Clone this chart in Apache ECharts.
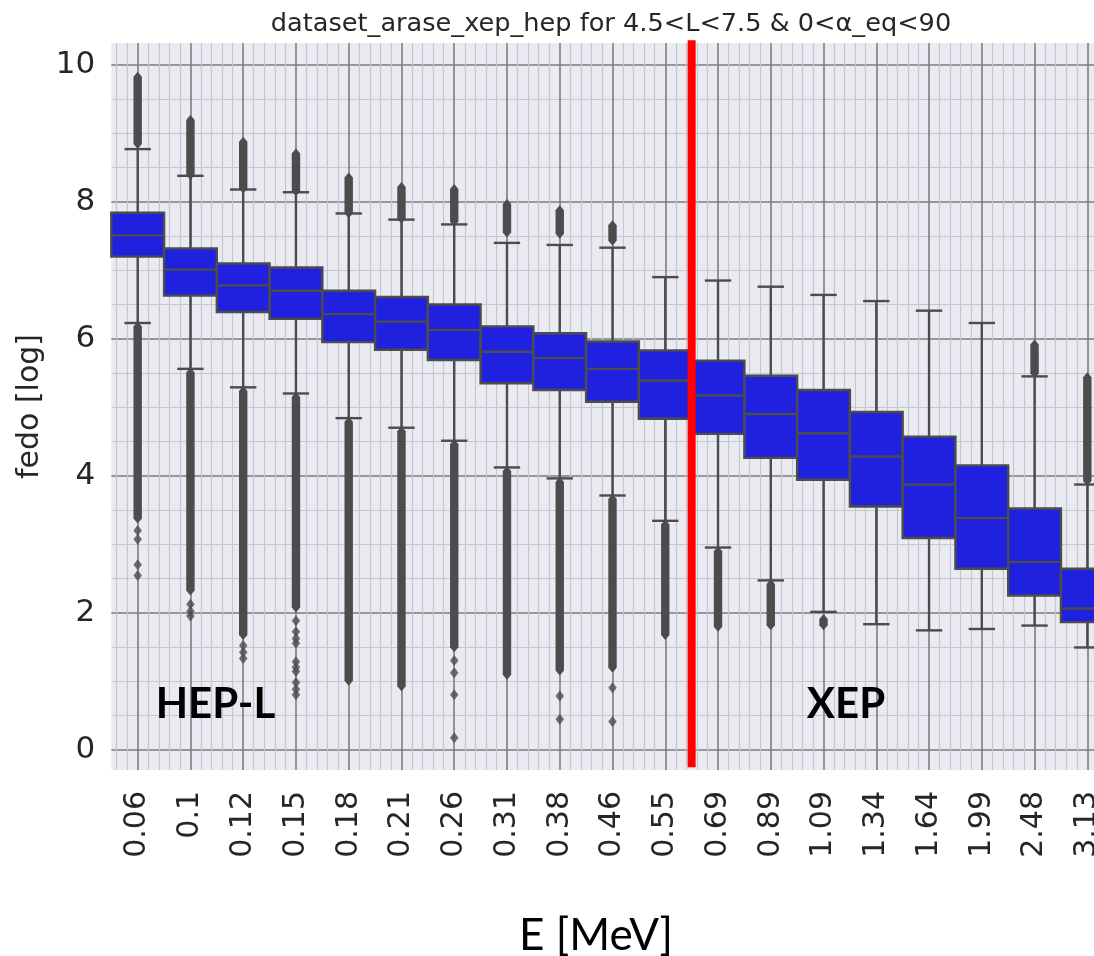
<!DOCTYPE html>
<html>
<head>
<meta charset="utf-8">
<title>fedo vs energy</title>
<script src="https://cdn.jsdelivr.net/npm/echarts@6.0.0/dist/echarts.min.js"></script>
<style>
  html, body { margin: 0; padding: 0; background: #fff; overflow: hidden; }
  /* the axes run a little past the right edge of the window, as in the source figure */
  #chart { width: 1114px; height: 956px; }
</style>
</head>
<body>
<div id="chart"></div>
<script>
// energy channels [MeV]; the first 11 are HEP-L, the rest XEP
const energies = ['0.06', '0.1', '0.12', '0.15', '0.18', '0.21', '0.26', '0.31', '0.38', '0.46',
  '0.55', '0.69', '0.89', '1.09', '1.34', '1.64', '1.99', '2.48', '3.13']
const hepCount = 11

// box statistics, log10 fedo
const whiskerLow = [6.23, 5.56, 5.29, 5.20, 4.84, 4.70, 4.51, 4.12, 3.96, 3.71, 3.34, 2.95, 2.47, 2.01, 1.83, 1.74, 1.76, 1.81, 1.49]
const q1 = [7.20, 6.63, 6.39, 6.29, 5.95, 5.84, 5.69, 5.35, 5.25, 5.08, 4.83, 4.61, 4.26, 3.94, 3.55, 3.09, 2.64, 2.25, 1.86]
const median = [7.51, 7.01, 6.78, 6.70, 6.36, 6.25, 6.13, 5.81, 5.72, 5.56, 5.39, 5.17, 4.90, 4.62, 4.28, 3.87, 3.38, 2.74, 2.06]
const q3 = [7.84, 7.32, 7.10, 7.04, 6.70, 6.61, 6.50, 6.18, 6.08, 5.96, 5.83, 5.68, 5.46, 5.25, 4.93, 4.57, 4.15, 3.52, 2.64]
const whiskerHigh = [8.77, 8.38, 8.18, 8.14, 7.83, 7.74, 7.67, 7.40, 7.37, 7.33, 6.90, 6.85, 6.76, 6.64, 6.55, 6.41, 6.23, 5.45, 3.87]

// runs of outliers so dense they merge into a bar: [channel, from, to]
const flierRuns = [
  [0, 8.77, 9.90], [1, 8.32, 9.27], [2, 8.12, 8.95], [3, 8.08, 8.78], [4, 7.76, 8.43],
  [5, 7.68, 8.29], [6, 7.64, 8.26], [7, 7.48, 8.04], [8, 7.46, 7.95], [9, 7.36, 7.73],
  [17, 5.42, 5.99], [18, 3.85, 5.51],
  [0, 3.30, 6.25], [1, 2.25, 5.58], [2, 1.60, 5.31], [3, 2.00, 5.22], [4, 0.93, 4.86],
  [5, 0.85, 4.72], [6, 1.42, 4.53], [7, 1.02, 4.14], [8, 1.08, 3.98], [9, 1.12, 3.73],
  [10, 1.60, 3.36], [11, 1.72, 2.97], [12, 1.74, 2.49], [13, 1.74, 1.98]
]
// single outliers standing apart: [channel, value]
const flierPoints = [
  [0, 3.20], [0, 3.07], [0, 2.70], [0, 2.54],
  [1, 2.12], [1, 2.02], [1, 1.95],
  [2, 1.52], [2, 1.42], [2, 1.33],
  [3, 1.88], [3, 1.72], [3, 1.62], [3, 1.55], [3, 1.28], [3, 1.20], [3, 1.14], [3, 0.98], [3, 0.88], [3, 0.80],
  [6, 1.30], [6, 1.12], [6, 0.80], [6, 0.17],
  [8, 0.78], [8, 0.44],
  [9, 0.90], [9, 0.41]
]

const BOX = '#2020df'
const EDGE = '#4c4c4c'
const TEXT = '#262626'
const FONT = 'DejaVu Sans'

const boxRows = energies.map((e, i) => [i, whiskerLow[i], q1[i], median[i], q3[i], whiskerHigh[i]])

function renderBox (params, api) {
  const i = api.value(0)
  const band = api.size([1, 0])[0]
  const xc = api.coord([i, 0])[0]
  const y = k => api.coord([i, api.value(k)])[1]
  const yLow = y(1), yQ1 = y(2), yMed = y(3), yQ3 = y(4), yHigh = y(5)
  const half = band / 2
  const cap = band / 4
  const line = { stroke: EDGE, lineWidth: 2.4 }
  return {
    type: 'group',
    children: [
      { type: 'line', shape: { x1: xc, y1: yQ3, x2: xc, y2: yHigh }, style: line },
      { type: 'line', shape: { x1: xc, y1: yQ1, x2: xc, y2: yLow }, style: line },
      { type: 'line', shape: { x1: xc - cap, y1: yHigh, x2: xc + cap, y2: yHigh }, style: line },
      { type: 'line', shape: { x1: xc - cap, y1: yLow, x2: xc + cap, y2: yLow }, style: line },
      { type: 'rect', shape: { x: xc - half, y: yQ3, width: band, height: yQ1 - yQ3 }, style: { fill: BOX, stroke: EDGE, lineWidth: 2.4 } },
      { type: 'line', shape: { x1: xc - half, y1: yMed, x2: xc + half, y2: yMed }, style: line }
    ]
  }
}

function renderRun (params, api) {
  const top = api.coord([api.value(0), api.value(2)])
  const bot = api.coord([api.value(0), api.value(1)])
  const w = 4.2
  const tip = 5
  return {
    type: 'polygon',
    shape: {
      points: [
        [top[0], top[1]], [top[0] + w, top[1] + tip], [bot[0] + w, bot[1] - tip],
        [bot[0], bot[1]], [bot[0] - w, bot[1] - tip], [top[0] - w, top[1] + tip]
      ]
    },
    style: { fill: EDGE }
  }
}

const chart = echarts.init(document.getElementById('chart'))
chart.setOption({
  animation: false,
  backgroundColor: '#fff',
  title: {
    text: 'dataset_arase_xep_hep for 4.5<L<7.5 & 0<α_eq<90',
    left: 611,
    top: 11,
    padding: 0,
    textAlign: 'center',
    textStyle: { fontFamily: FONT, fontSize: 25.6, fontWeight: 'normal', color: TEXT }
  },
  grid: {
    left: 111.3,
    top: 43,
    width: 1002.4,
    height: 727,
    outerBoundsMode: 'none',
    show: true,
    backgroundColor: '#eaeaf2',
    borderWidth: 0
  },
  xAxis: [
    {
      type: 'category',
      data: energies,
      axisLine: { show: false },
      axisTick: { show: false },
      splitLine: { show: false },
      axisLabel: {
        rotate: 90,
        margin: 21,
        interval: 0,
        fontFamily: FONT,
        fontSize: 30,
        color: TEXT
      }
    },
    {
      // only carries the vertical grid (major at channel centres, minor in fifths)
      type: 'value',
      position: 'bottom',
      min: -0.5,
      max: 18.5,
      minInterval: 1,
      maxInterval: 1,
      axisLine: { show: false },
      axisTick: { show: false },
      axisLabel: { show: false },
      splitLine: { show: true, showMinLine: false, showMaxLine: false, lineStyle: { color: '#7d7d7d', width: 1.6 } },
      minorTick: { show: false, splitNumber: 5 },
      minorSplitLine: { show: true, lineStyle: { color: '#c6c6ce', width: 1.2 } }
    }
  ],
  yAxis: {
    type: 'value',
    min: -0.30,
    max: 10.32,
    minInterval: 2,
    maxInterval: 2,
    name: 'fedo [log]',
    nameLocation: 'middle',
    nameGap: 64,
    nameTextStyle: { fontFamily: FONT, fontSize: 30, color: TEXT },
    axisLine: { show: false },
    axisTick: { show: false },
    axisLabel: {
      showMinLabel: false,
      showMaxLabel: false,
      margin: 16,
      fontFamily: FONT,
      fontSize: 31,
      color: TEXT
    },
    splitLine: { show: true, showMinLine: false, showMaxLine: false, lineStyle: { color: '#7d7d7d', width: 1.6 } },
    minorTick: { show: false, splitNumber: 4 },
    minorSplitLine: { show: true, lineStyle: { color: '#c6c6ce', width: 1.2 } }
  },
  series: [
    {
      type: 'custom',
      name: 'box',
      xAxisIndex: 0,
      renderItem: renderBox,
      encode: { x: 0, y: [1, 2, 3, 4, 5] },
      data: boxRows,
      z: 2
    },
    {
      type: 'custom',
      name: 'flier runs',
      xAxisIndex: 0,
      renderItem: renderRun,
      encode: { x: 0, y: [1, 2] },
      data: flierRuns,
      z: 3
    },
    {
      type: 'scatter',
      name: 'fliers',
      xAxisIndex: 0,
      symbol: 'diamond',
      symbolSize: [8.5, 11],
      itemStyle: { color: EDGE },
      data: flierPoints,
      z: 3
    }
  ]
})

// red divider between the HEP-L and XEP channels
const a = chart.convertToPixel({ xAxisIndex: 0, yAxisIndex: 0 }, [hepCount - 1, 10.36])
const b = chart.convertToPixel({ xAxisIndex: 0, yAxisIndex: 0 }, [hepCount, -0.26])
const xDiv = (a[0] + b[0]) / 2

chart.setOption({
  graphic: [
    {
      type: 'line',
      shape: { x1: xDiv, y1: a[1], x2: xDiv, y2: b[1] },
      style: { stroke: '#ff0000', lineWidth: 8 },
      z: 10
    },
    {
      type: 'text',
      x: 215.5,
      y: 704,
      style: { text: 'HEP-L', fontFamily: 'Lato', fontWeight: 'bold', fontSize: 42, fill: '#000', align: 'center', verticalAlign: 'middle' },
      z: 10
    },
    {
      type: 'text',
      x: 846,
      y: 704,
      style: { text: 'XEP', fontFamily: 'Lato', fontWeight: 'bold', fontSize: 42, fill: '#000', align: 'center', verticalAlign: 'middle' },
      z: 10
    },
    {
      type: 'text',
      x: 596,
      y: 936,
      style: { text: 'E [MeV]', fontFamily: 'Lato', fontSize: 44, fill: '#000', align: 'center', verticalAlign: 'middle' },
      z: 10
    }
  ]
})
</script>
</body>
</html>
